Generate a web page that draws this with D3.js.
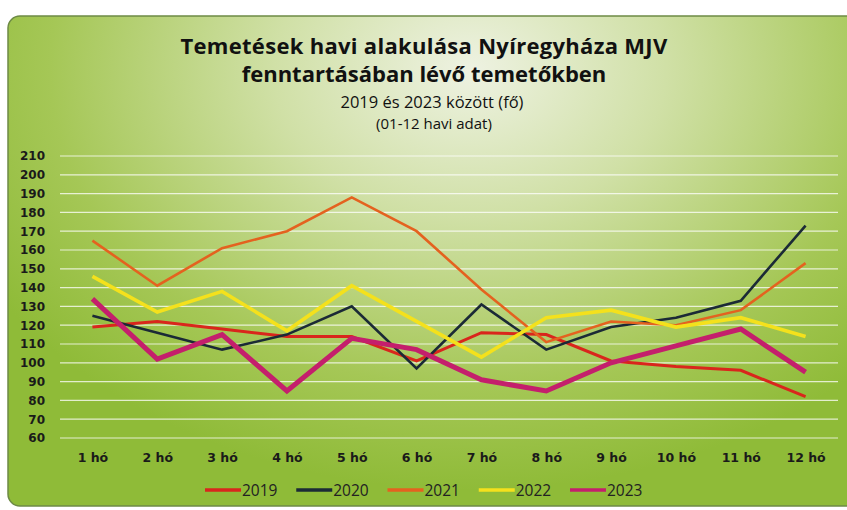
<!DOCTYPE html>
<html>
<head>
<meta charset="utf-8">
<script src="https://cdn.jsdelivr.net/npm/d3@7"></script>
<style>
	body { margin: 0; background: #fff; }
	svg { display: block; }
</style>
</head>
<body>
<svg width="847" height="510"></svg>
<script>
// data
const months = ['1 hó', '2 hó', '3 hó', '4 hó', '5 hó', '6 hó', '7 hó', '8 hó', '9 hó', '10 hó', '11 hó', '12 hó']
const years = ['2019', '2020', '2021', '2022', '2023']
const v2019 = [119, 122, 118, 114, 114, 101, 116, 115, 101, 98, 96, 82]
const v2020 = [125, 116, 107, 115, 130, 97, 131, 107, 119, 124, 133, 173]
const v2021 = [165, 141, 161, 170, 188, 170, 139, 111, 122, 120, 128, 153]
const v2022 = [146, 127, 138, 117, 141, 122, 103, 124, 128, 119, 124, 114]
const v2023 = [134, 102, 115, 85, 113, 107, 91, 85, 100, 109, 118, 95]
const yTicks = [60, 70, 80, 90, 100, 110, 120, 130, 140, 150, 160, 170, 180, 190, 200, 210]

const series = [
	{ name: years[0], values: v2019, color: '#d9261c', width: 3 },
	{ name: years[1], values: v2020, color: '#1b2a36', width: 2.6 },
	{ name: years[2], values: v2021, color: '#e4621f', width: 2.6 },
	{ name: years[3], values: v2022, color: '#f4e11c', width: 3.6 },
	{ name: years[4], values: v2023, color: '#c41f6c', width: 5 }
]

let svg = d3.select('svg')
let defs = svg.append('defs')

let bg = defs.append('radialGradient')
	.attr('id', 'bg')
	.attr('gradientUnits', 'userSpaceOnUse')
	.attr('cx', 470).attr('cy', 70).attr('r', 560)
	.attr('gradientTransform', 'translate(470,70) scale(1,0.75) translate(-470,-70)')
bg.append('stop').attr('offset', '0').attr('stop-color', '#eef2e2')
bg.append('stop').attr('offset', '0.35').attr('stop-color', '#d0e0a6')
bg.append('stop').attr('offset', '0.75').attr('stop-color', '#a5c756')
bg.append('stop').attr('offset', '1').attr('stop-color', '#8fbb38')

svg.append('rect')
	.attr('x', 8).attr('y', 16)
	.attr('width', 850).attr('height', 490)
	.attr('rx', 12)
	.attr('fill', 'url(#bg)')
	.attr('stroke', '#6d8a45')
	.attr('stroke-width', 1.5)

// titles
let title = svg.append('g')
	.attr('text-anchor', 'middle')
	.attr('fill', '#111')
	.attr('font-family', 'Open Sans, sans-serif')

title.append('text').attr('x', 424).attr('y', 54)
	.attr('font-size', 22).attr('font-weight', 'bold')
	.attr('letter-spacing', 0.3)
	.text('Temetések havi alakulása Nyíregyháza MJV')
title.append('text').attr('x', 424).attr('y', 82)
	.attr('font-size', 22).attr('font-weight', 'bold')
	.text('fenntartásában lévő temetőkben')
title.append('text').attr('x', 432).attr('y', 108)
	.attr('font-size', 16.5)
	.text('2019 és 2023 között (fő)')
title.append('text').attr('x', 434).attr('y', 129)
	.attr('font-size', 15)
	.text('(01-12 havi adat)')

// scales
let x = d3.scalePoint()
	.domain(months)
	.range([60, 838])
	.padding(0.5)

let y = d3.scaleLinear()
	.domain([60, 210])
	.range([438, 156])

// grid
svg.append('g')
	.selectAll('line')
	.data(yTicks).enter()
	.append('line')
	.attr('x1', 60).attr('x2', 838)
	.attr('y1', d => y(d)).attr('y2', d => y(d))
	.attr('stroke', '#fff')
	.attr('stroke-opacity', 0.75)
	.attr('stroke-width', 1.2)

// axes
let yAxis = svg.append('g')
	.attr('transform', 'translate(51,0)')
	.call(d3.axisLeft(y).tickValues(yTicks).tickSize(0).tickPadding(6))
yAxis.select('.domain').remove()
yAxis.selectAll('text')
	.attr('font-family', 'DejaVu Sans, sans-serif')
	.attr('font-size', 12)
	.attr('font-weight', 'bold')
	.attr('fill', '#1a1a1a')

let xAxis = svg.append('g')
	.attr('transform', 'translate(0,448)')
	.call(d3.axisBottom(x).tickSize(0).tickPadding(5))
xAxis.select('.domain').remove()
xAxis.selectAll('text')
	.attr('font-family', 'DejaVu Sans, sans-serif')
	.attr('font-size', 12.5)
	.attr('font-weight', 'bold')
	.attr('fill', '#1a1a1a')

// lines
let line = d3.line()
	.x((d, i) => x(months[i]))
	.y(d => y(d))

svg.append('g')
	.selectAll('path')
	.data(series).enter()
	.append('path')
	.attr('fill', 'none')
	.attr('stroke', d => d.color)
	.attr('stroke-width', d => d.width)
	.attr('stroke-linejoin', 'miter')
	.attr('d', d => line(d.values))

// legend
let legendX = d3.scalePoint()
	.domain(years)
	.range([205, 570])

let legend = svg.append('g')
	.selectAll('g')
	.data(series).enter()
	.append('g')
	.attr('transform', d => `translate(${legendX(d.name)},490)`)

legend.append('line')
	.attr('x1', 0).attr('x2', 36)
	.attr('y1', 0).attr('y2', 0)
	.attr('stroke', d => d.color)
	.attr('stroke-width', 3.5)

legend.append('text')
	.attr('x', 37).attr('y', 5.5)
	.attr('font-family', 'Open Sans, sans-serif')
	.attr('font-size', 15.5)
	.attr('fill', '#222')
	.text(d => d.name)
</script>
</body>
</html>
